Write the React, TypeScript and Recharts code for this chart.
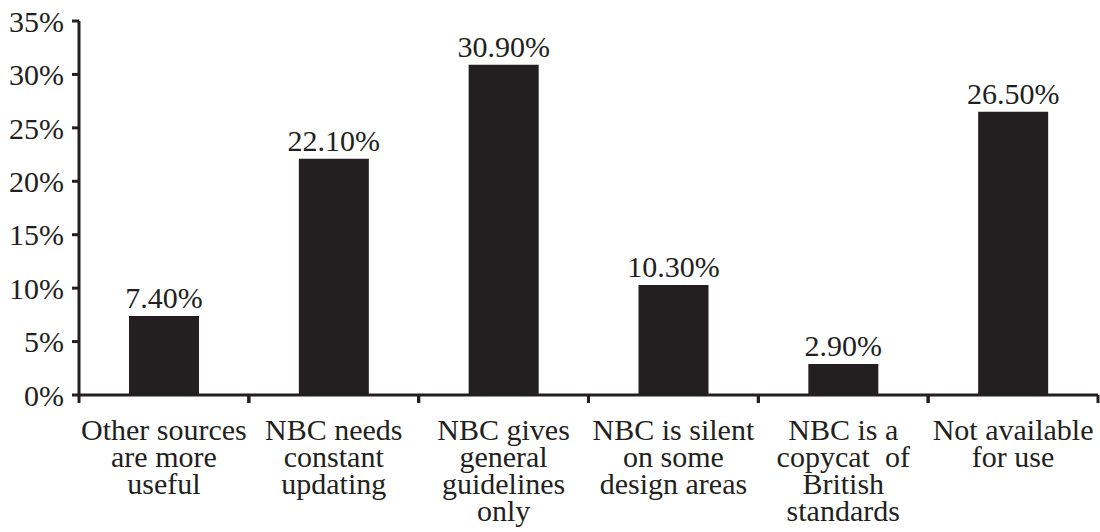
import React from 'react';
import { BarChart, Bar, XAxis, YAxis, LabelList } from 'recharts';

const categories = [
  'Other sources\nare more\nuseful',
  'NBC needs\nconstant\nupdating',
  'NBC gives\ngeneral\nguidelines\nonly',
  'NBC is silent\non some\ndesign areas',
  'NBC is a\ncopycat  of\nBritish\nstandards',
  'Not available\nfor use',
];
const values = [7.4, 22.1, 30.9, 10.3, 2.9, 26.5];
const yTicks = [0, 5, 10, 15, 20, 25, 30, 35];

const data = categories.map((c, i) => ({ name: c, value: values[i] }));

const INK = '#231f20';
const FONT = '"Liberation Serif", "Times New Roman", serif';
const FS = 30;

const CatTick = (props: any) => {
  const { x, y, payload } = props;
  const half = payload.offset || 0;
  const lines = String(payload.value).split('\n');
  return (
    <g>
      <line x1={x - half} x2={x - half} y1={y - 8} y2={y} stroke={INK} strokeWidth={3} />
      <line x1={x + half} x2={x + half} y1={y - 8} y2={y} stroke={INK} strokeWidth={3} />
      <text x={x} y={y + 37} textAnchor="middle" fill={INK} fontFamily={FONT} fontSize={FS}>
        {lines.map((l, i) => (
          <tspan key={i} x={x} dy={i === 0 ? 0 : 27} style={{ whiteSpace: 'pre' }}>
            {l}
          </tspan>
        ))}
      </text>
    </g>
  );
};

export default function App() {
  return (
    <div style={{ position: 'absolute', left: 0, top: 0, background: '#fff' }}>
      <BarChart
        width={1100}
        height={532}
        data={data}
        margin={{ top: 21, right: 2, bottom: 0, left: 0 }}
        barSize={70}
      >
        <YAxis
          domain={[0, 35]}
          ticks={yTicks}
          tickFormatter={(v: number) => `${v}%`}
          width={79}
          axisLine={{ stroke: INK, strokeWidth: 3 }}
          tickLine={{ stroke: INK, strokeWidth: 3 }}
          tickSize={7}
          tickMargin={8}
          tick={{ fill: INK, fontFamily: FONT, fontSize: FS }}
          interval={0}
        />
        <XAxis
          dataKey="name"
          height={137}
          axisLine={{ stroke: INK, strokeWidth: 3 }}
          tickLine={false}
          tick={<CatTick />}
          interval={0}
        />
        <Bar dataKey="value" fill={INK} isAnimationActive={false}>
          <LabelList
            dataKey="value"
            position="top"
            offset={8}
            formatter={(v: number) => `${v.toFixed(2)}%`}
            fill={INK}
            fontFamily={FONT}
            fontSize={FS}
          />
        </Bar>
      </BarChart>
    </div>
  );
}
